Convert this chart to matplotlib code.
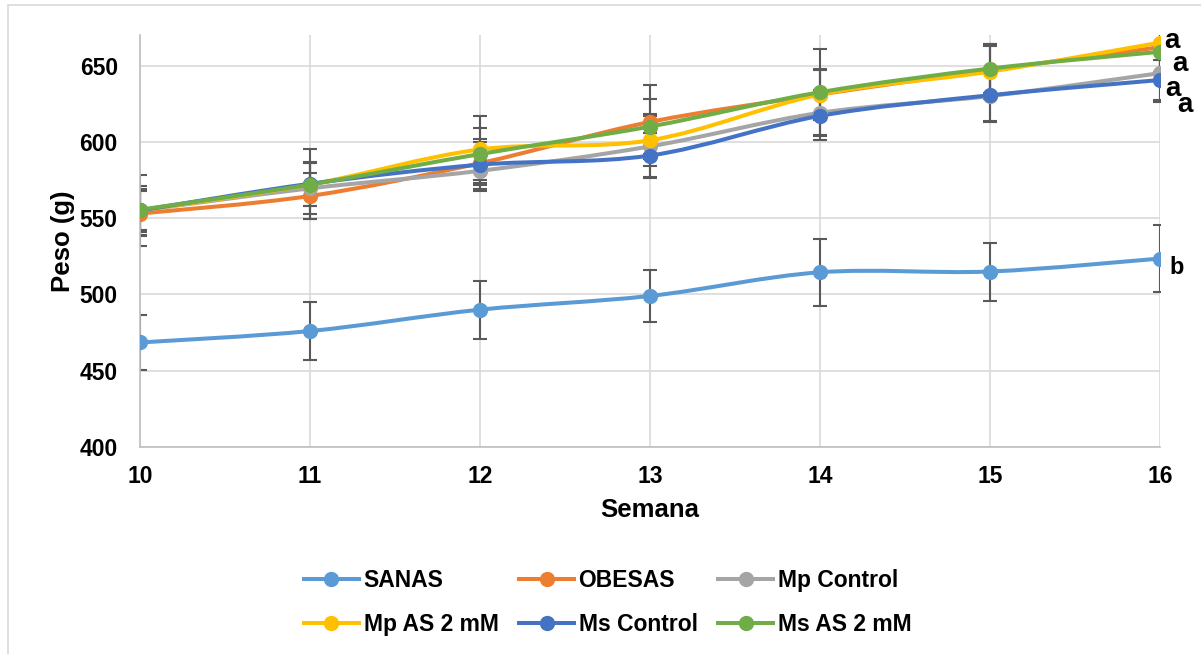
import numpy as np
import matplotlib.pyplot as plt
from matplotlib.path import Path
from matplotlib.patches import PathPatch, Rectangle
from matplotlib.lines import Line2D

plt.rcParams['font.family'] = ['Liberation Sans', 'DejaVu Sans']
plt.rcParams['font.weight'] = 'bold'

semanas = [10, 11, 12, 13, 14, 15, 16]

series_names = ['SANAS', 'OBESAS', 'Mp Control', 'Mp AS 2 mM', 'Ms Control', 'Ms AS 2 mM']
series_colors = ['#5B9BD5', '#ED7D31', '#A5A5A5', '#FFC000', '#4472C4', '#70AD47']

sanas = [468.5, 476, 490, 499, 514.5, 515, 523.5]
obesas = [553, 564.5, 586, 613, 631, 647, 662]
mp_control = [555, 569.5, 581, 597, 619, 630, 645]
mp_as = [555, 572, 595, 601, 631, 646, 665]
ms_control = [555, 572.5, 585, 591, 617, 630.5, 640.5]
ms_as = [555.5, 572, 592, 610, 632.5, 648, 659]

sanas_err = [18, 19, 19, 17, 22, 19, 22]
obesas_err = [15, 15, 14, 24, 17, 16, 16]
mp_control_err = [14, 17, 12, 20, 15, 17, 19]
mp_as_err = [16, 14, 22, 17, 16, 18, 20]
ms_control_err = [23, 23, 17, 15, 16, 17, 13]
ms_as_err = [13, 14, 17, 18, 28, 16, 15]


def smooth_path(x, y):
    # cubic Bezier segments through the points (smoothed line)
    pts = np.column_stack([x, y]).astype(float)
    ext = np.vstack([pts[0], pts, pts[-1]])
    verts = [pts[0]]
    codes = [Path.MOVETO]
    for i in range(len(pts) - 1):
        p0, p1, p2, p3 = ext[i], ext[i + 1], ext[i + 2], ext[i + 3]
        verts += [p1 + (p2 - p0) / 6, p2 - (p3 - p1) / 6, p2]
        codes += [Path.CURVE4] * 3
    return Path(verts, codes)


fig = plt.figure(figsize=(12.01, 6.54), dpi=100)
ax = fig.add_axes([0.1166, 0.3165, 0.8493, 0.63])

# light chart-area border
fig.patches.append(Rectangle((0.007, -0.05), 1.2, 1.043, transform=fig.transFigure,
                             fill=False, edgecolor='#D9D9D9', lw=1.2))

values = [sanas, obesas, mp_control, mp_as, ms_control, ms_as]
errors = [sanas_err, obesas_err, mp_control_err, mp_as_err, ms_control_err, ms_as_err]

for vals, errs in zip(values, errors):
    ax.errorbar(semanas, vals, yerr=errs, fmt='none', ecolor='#595959',
                elinewidth=1.5, capsize=5, capthick=1.5, zorder=2)

for vals, color in zip(values, series_colors):
    ax.add_patch(PathPatch(smooth_path(semanas, vals), fill=False,
                           edgecolor=color, lw=2.9, zorder=3, capstyle='round'))
    ax.plot(semanas, vals, 'o', color=color, markersize=10, zorder=4)

# significance letters at week 16
x_end = semanas[-1]
lbl = dict(textcoords='offset pixels', fontsize=20, fontweight='bold',
           va='center', ha='center')
ax.annotate('b', (x_end, sanas[-1]), xytext=(17, -9), fontsize=17,
            textcoords='offset pixels', fontweight='bold', va='center', ha='center')
ax.annotate('a', (x_end, mp_as[-1]), xytext=(12, 2), **lbl)
ax.annotate('a', (x_end, ms_as[-1]), xytext=(20, -12), **lbl)
ax.annotate('a', (x_end, ms_control[-1]), xytext=(13, -9), **lbl)
ax.annotate('a', (x_end, ms_control[-1]), xytext=(25, -25), **lbl)

ax.set_xlim(10, 16)
ax.set_ylim(400, 670)
ax.set_xticks(semanas)
ax.set_yticks(np.arange(400, 651, 50))
ax.grid(True, color='#D9D9D9', lw=1.2)
ax.set_axisbelow(True)
for side in ['top', 'right']:
    ax.spines[side].set_visible(False)
for side in ['left', 'bottom']:
    ax.spines[side].set_color('#BFBFBF')
    ax.spines[side].set_linewidth(1.2)
ax.tick_params(length=0, labelsize=16.5)
ax.tick_params(axis='x', pad=13)
ax.tick_params(axis='y', pad=16)
for t in ax.get_xticklabels() + ax.get_yticklabels():
    t.set_fontweight('bold')
ax.set_xlabel('Semana', fontsize=18.5, fontweight='bold')
ax.set_ylabel('Peso (g)', fontsize=18.5, fontweight='bold')
ax.xaxis.set_label_coords(0.5, -0.124)
ax.yaxis.set_label_coords(-0.064, 0.5)

# legend filled row by row
handles = [Line2D([], [], color=c, lw=2.9, marker='o', markersize=10) for c in series_colors]
order = [0, 3, 1, 4, 2, 5]
fig.legend([handles[i] for i in order], [series_names[i] for i in order],
           loc='center', bbox_to_anchor=(0.506, 0.079), ncol=3, frameon=False,
           prop={'size': 16.5, 'weight': 'bold'}, handlelength=2.4,
           handletextpad=0.2, columnspacing=0.9, labelspacing=0.9)

fig.savefig('out.png', dpi=100)
